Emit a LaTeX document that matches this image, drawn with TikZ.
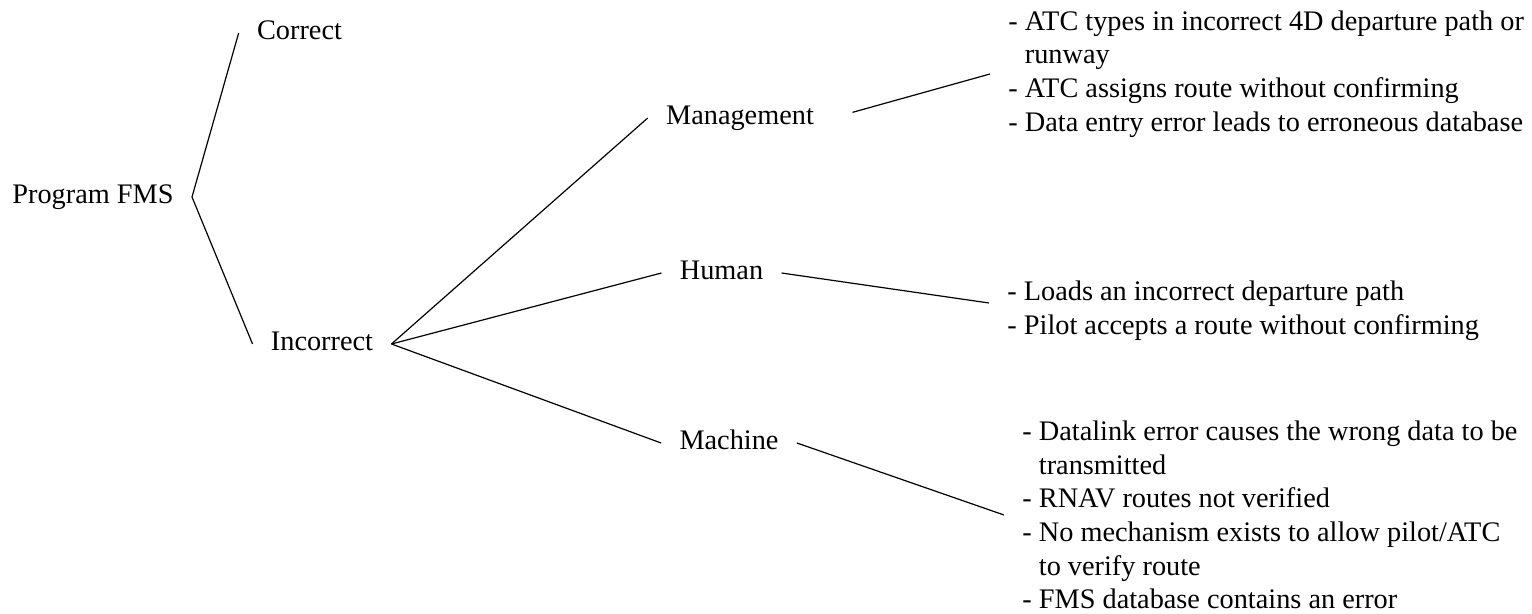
\documentclass[tikz,border=0pt]{standalone}
\usepackage{fontspec}
\setmainfont{Liberation Serif}
\usepackage{tikz}

\begin{document}
\begin{tikzpicture}[x=0.5pt, y=-0.5pt,
        branch/.style={inner xsep=9pt, inner ysep=0pt, text height=0.66em, text depth=0pt,
            font=\fontsize{14.15}{16.85}\selectfont},
        causes/.style={inner xsep=9pt, inner ysep=0pt, align=left, anchor=west,
            font=\fontsize{14.15}{16.85}\selectfont},
        edge/.style={line width=0.6pt}]
        % Frame
        \useasboundingbox (0,0) rectangle (1532,614);

        % Decision nodes
        \node[branch] (fms) at (93,197) {Program FMS};
        \node[branch] (correct) at (299.5,33) {Correct};
        \node[branch] (incorrect) at (322,344) {Incorrect};
        \node[branch] (mgmt) at (740,118) {Management};
        \node[branch] (human) at (721.5,273) {Human};
        \node[branch] (machine) at (729,443) {Machine};

        % Cause lists
        \node[causes] (mlist) at (990,74) {- ATC types in incorrect 4D departure path or\\
            \phantom{- }runway\\
            - ATC assigns route without confirming\\
            - Data entry error leads to erroneous database};
        \node[causes] (hlist) at (989,311) {- Loads an incorrect departure path\\
            - Pilot accepts a route without confirming};
        \node[causes] (clist) at (1004,515) {- Datalink error causes the wrong data to be\\
            \phantom{- }transmitted\\
            - RNAV routes not verified\\
            - No mechanism exists to allow pilot/ATC\\
            \phantom{- }to verify route\\
            - FMS database contains an error};

        % Branches
        \draw[edge] (correct.west) -- (fms.east) -- (incorrect.west);
        \draw[edge] (incorrect.east) -- (mgmt.west);
        \draw[edge] (incorrect.east) -- (human.west);
        \draw[edge] (incorrect.east) -- (machine.west);

        % Links to the lists
        \draw[edge, shorten <=10.5pt] (mgmt.east) -- (mlist.west);
        \draw[edge] (human.east) -- ([yshift=4pt]hlist.west);
        \draw[edge] (machine.east) -- (clist.west);
    \end{tikzpicture}
\end{document}
